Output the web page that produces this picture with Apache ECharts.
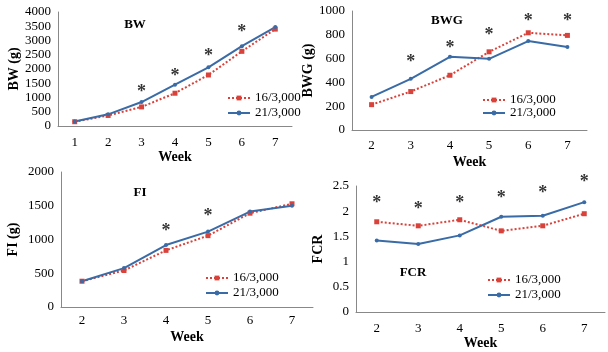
<!DOCTYPE html>
<html>
<head>
<meta charset="utf-8">
<script src="https://cdn.jsdelivr.net/npm/echarts@6/dist/echarts.min.js"></script>
<style>
  html, body { margin: 0; padding: 0; background: #fff; }
  #chart { width: 608px; height: 352px; }
</style>
</head>
<body>
<div id="chart"></div>
<script>
// weeks
const weeksBW = ['1', '2', '3', '4', '5', '6', '7'];
const weeks = ['2', '3', '4', '5', '6', '7'];

// BW (g)
const bwLow = [150, 370, 670, 1150, 1790, 2620, 3400];
const bwHigh = [155, 410, 840, 1450, 2060, 2800, 3470];
const starsBW = [['3', 1330], ['4', 1900], ['5', 2600], ['6', 3440]];

// BWG (g)
const bwgLow = [213, 323, 460, 657, 817, 795];
const bwgHigh = [278, 430, 615, 598, 747, 697];
const starsBWG = [['3', 600], ['4', 720], ['5', 825], ['6', 950], ['7', 950]];

// FI (g)
const fiLow = [382, 541, 839, 1057, 1390, 1529];
const fiHigh = [382, 576, 918, 1117, 1414, 1499];
const starsFI = [['4', 1180], ['5', 1400]];

// FCR
const fcrLow = [1.79, 1.71, 1.83, 1.61, 1.71, 1.95];
const fcrHigh = [1.42, 1.35, 1.52, 1.89, 1.91, 2.18];
const starsFCR = [['2', 2.23], ['3', 2.12], ['4', 2.23], ['5', 2.33], ['6', 2.43], ['7', 2.65]];

const seriesNames = ['16/3,000', '21/3,000'];
const red = '#d8423a';
const blue = '#396ba6';
const font = '"Liberation Serif", "Times New Roman", serif';

const chart = echarts.init(document.getElementById('chart'));

const grids = [
  { left: 58, top: 12, width: 234, height: 114 },
  { left: 352, top: 11, width: 235, height: 119 },
  { left: 61, top: 172, width: 252, height: 135 },
  { left: 356, top: 186, width: 249, height: 126 }
];

const xAxis = (i, data, labelMargin, nameGap) => ({
  type: 'category', gridIndex: i, data: data, boundaryGap: true,
  name: 'Week', nameLocation: 'middle', nameGap: nameGap,
  nameTextStyle: { fontFamily: font, fontWeight: 'bold', fontSize: 14, color: '#000' },
  axisLine: { lineStyle: { color: '#888', width: 1 } },
  axisTick: { show: false },
  axisLabel: { fontFamily: font, fontSize: 13, color: '#000', margin: labelMargin }
});

const yAxis = (i, name, max, interval, nameGap) => ({
  type: 'value', gridIndex: i, min: 0, max: max, interval: interval,
  name: name, nameLocation: 'middle', nameGap: nameGap,
  nameTextStyle: { fontFamily: font, fontWeight: 'bold', fontSize: 14, color: '#000' },
  axisLine: { show: true, lineStyle: { color: '#888', width: 1 } },
  axisTick: { show: false },
  splitLine: { show: false },
  axisLabel: { fontFamily: font, fontSize: 13, color: '#000', margin: 7, formatter: v => String(v) }
});

const lowSeries = (i, data) => ({
  name: seriesNames[0], type: 'line', xAxisIndex: i, yAxisIndex: i, data: data,
  symbol: 'rect', symbolSize: 5, showSymbol: true,
  lineStyle: { color: red, width: 2, type: 'dotted' },
  itemStyle: { color: red }
});

const highSeries = (i, data) => ({
  name: seriesNames[1], type: 'line', xAxisIndex: i, yAxisIndex: i, data: data,
  symbol: 'circle', symbolSize: 4, showSymbol: true,
  lineStyle: { color: blue, width: 2 },
  itemStyle: { color: blue }
});

const starSeries = (i, data) => ({
  name: 'sig', type: 'scatter', xAxisIndex: i, yAxisIndex: i, data: data,
  symbol: 'circle', symbolSize: 1, clip: false, silent: true,
  itemStyle: { color: 'rgba(0,0,0,0)' },
  label: {
    show: true, position: 'inside', formatter: '*',
    fontFamily: font, fontWeight: 'bold', fontSize: 18, color: '#000', offset: [0, 4]
  }
});

const legend = (left, top, itemGap) => ({
  data: seriesNames, orient: 'vertical', left: left, top: top, padding: 0,
  itemGap: itemGap, itemWidth: 22, itemHeight: 6,
  textStyle: { fontFamily: font, fontSize: 13, color: '#000', lineHeight: 14 }
});

const title = (text, x, y) => ({
  text: text, left: x, top: y, padding: 0, textAlign: 'center',
  textStyle: { fontFamily: font, fontWeight: 'bold', fontSize: 13, color: '#000' }
});

chart.setOption({
  animation: false,
  title: [
    title('BW', 135, 18),
    title('BWG', 447, 14),
    title('FI', 140, 186),
    title('FCR', 413, 266)
  ],
  legend: [
    legend(227, 91, 1),
    legend(482, 93, -1),
    legend(205, 271, 1),
    legend(487, 273, 1)
  ],
  grid: grids,
  xAxis: [
    xAxis(0, weeksBW, 10, 22),
    xAxis(1, weeks, 9, 25),
    xAxis(2, weeks, 7, 23),
    xAxis(3, weeks, 10, 23)
  ],
  yAxis: [
    yAxis(0, 'BW (g)', 4000, 500, 34),
    yAxis(1, 'BWG (g)', 1000, 200, 34),
    yAxis(2, 'FI (g)', 2000, 500, 41),
    yAxis(3, 'FCR', 2.5, 0.5, 31)
  ],
  series: [
    lowSeries(0, bwLow), highSeries(0, bwHigh), starSeries(0, starsBW),
    lowSeries(1, bwgLow), highSeries(1, bwgHigh), starSeries(1, starsBWG),
    lowSeries(2, fiLow), highSeries(2, fiHigh), starSeries(2, starsFI),
    lowSeries(3, fcrLow), highSeries(3, fcrHigh), starSeries(3, starsFCR)
  ]
});
</script>
</body>
</html>
